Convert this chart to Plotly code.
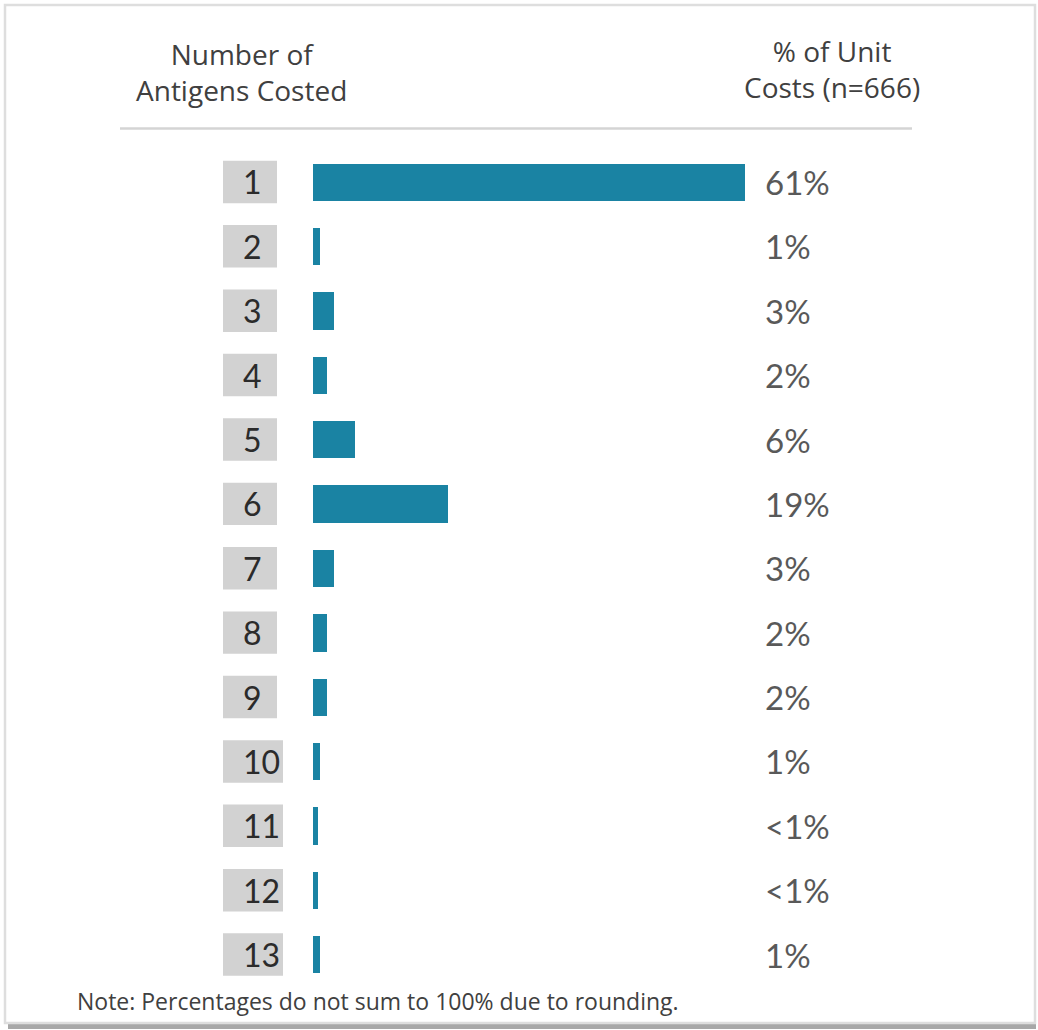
import plotly.graph_objects as go

# Share of unit costs by number of antigens costed
antigens = [1, 2, 3, 4, 5, 6, 7, 8, 9, 10, 11, 12, 13]
pct_values = [61, 1, 3, 2, 6, 19, 3, 2, 2, 1, 0.7, 0.7, 1]
pct_labels = ["61%", "1%", "3%", "2%", "6%", "19%", "3%", "2%", "2%", "1%", "<1%", "<1%", "1%"]

header_left = "Number of<br>Antigens Costed"
header_right = "% of Unit<br>Costs (n=666)"
note_text = "Note: Percentages do not sum to 100% due to rounding."

W, H = 1038, 1030
BAR_COLOR = "#1a83a3"
TEXT_COLOR = "#404040"
LABEL_FONT = "Lato, Carlito, Calibri, sans-serif"
HEAD_FONT = "Open Sans, Segoe UI, sans-serif"


def px(x):
    return x / W


def py(y):
    return 1 - y / H


fig = go.Figure()
fig.add_trace(go.Bar(
    x=pct_values,
    y=antigens,
    orientation="h",
    width=0.58,
    marker=dict(color=BAR_COLOR, line=dict(width=0)),
    hoverinfo="skip",
    showlegend=False,
))

shapes = []
annotations = []

# frame with a soft bottom shadow (drawn first so everything sits on top)
shapes.append(dict(type="rect", xref="paper", yref="paper",
                   x0=px(8), x1=px(1036), y0=py(1029), y1=py(1023),
                   fillcolor="#a8a8a8", line=dict(width=0), layer="below"))
shapes.append(dict(type="rect", xref="paper", yref="paper",
                   x0=px(5), x1=px(1035), y0=py(1023), y1=py(5),
                   fillcolor="white", line=dict(color="#dedede", width=2.5), layer="below"))

# gray boxes holding the antigen counts
for n in antigens:
    right = 277 if len(str(n)) == 1 else 283
    shapes.append(dict(type="rect", xref="paper", yref="y",
                       x0=px(223), x1=px(right), y0=n - 0.33, y1=n + 0.33,
                       fillcolor="#d2d2d2", line=dict(width=0), layer="below"))
    annotations.append(dict(x=px(241), y=n, xref="paper", yref="y",
                            text=str(n), showarrow=False, xanchor="left", yanchor="middle",
                            font=dict(family=LABEL_FONT, size=32, color="#2b2b2b")))

# percentage labels
for n, lab in zip(antigens, pct_labels):
    annotations.append(dict(x=px(763), y=n, xref="paper", yref="y",
                            text=lab, showarrow=False, xanchor="left", yanchor="middle",
                            font=dict(family=LABEL_FONT, size=33, color="#595959")))

# column headers
annotations.append(dict(x=px(241), y=py(72), xref="paper", yref="paper",
                        text=header_left, showarrow=False, xanchor="center", yanchor="middle",
                        align="center",
                        font=dict(family=HEAD_FONT, size=28, color=TEXT_COLOR)))
annotations.append(dict(x=px(832), y=py(69), xref="paper", yref="paper",
                        text=header_right, showarrow=False, xanchor="center", yanchor="middle",
                        align="center",
                        font=dict(family=HEAD_FONT, size=28, color=TEXT_COLOR)))

# footnote
annotations.append(dict(x=px(75), y=py(1001), xref="paper", yref="paper",
                        text=note_text, showarrow=False, xanchor="left", yanchor="middle",
                        font=dict(family=HEAD_FONT, size=23, color=TEXT_COLOR)))

# rule under the headers
shapes.append(dict(type="line", xref="paper", yref="paper",
                   x0=px(120), x1=px(912), y0=py(128.5), y1=py(128.5),
                   line=dict(color="#d4d4d4", width=2.5)))

fig.update_layout(
    width=W, height=H,
    margin=dict(l=0, r=0, t=0, b=0),
    paper_bgcolor="white",
    plot_bgcolor="rgba(0,0,0,0)",
    bargap=0,
    xaxis=dict(domain=[px(313), px(745)], range=[0, 61], visible=False, fixedrange=True),
    yaxis=dict(domain=[1 - 986.7 / H, 1 - 149.8 / H], range=[13.5, 0.5], visible=False,
               fixedrange=True),
    shapes=shapes,
    annotations=annotations,
)

fig.write_html("out.html", config={"displayModeBar": False})
